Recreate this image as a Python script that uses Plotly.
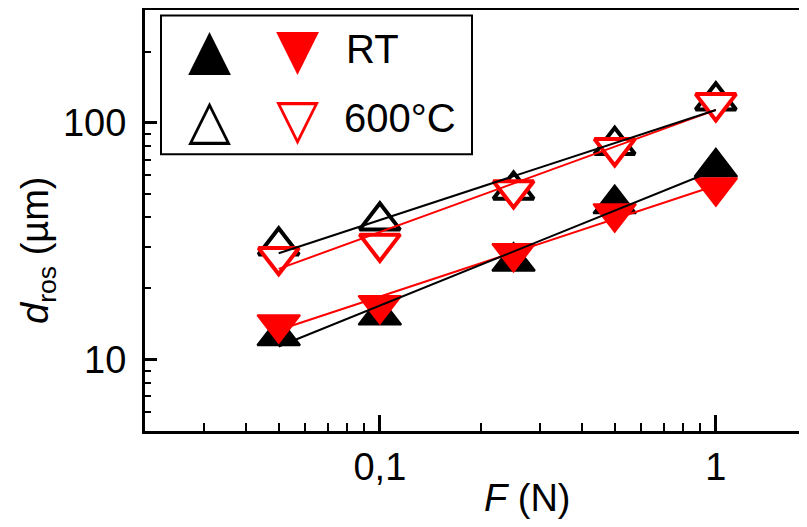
import numpy as np
import plotly.graph_objects as go

# ---- data ----
force_N = [0.05, 0.1, 0.25, 0.5, 1.0]
d_rt_black = [12.6, 15.4, 26.0, 45.5, 65.0]      # filled black triangles (RT)
d_rt_red = [14.1, 17.0, 28.2, 41.5, 53.4]        # filled red triangles (RT)
d_600_black = [30.3, 38.6, 52.1, 80.5, 124.2]    # open black triangles (600 °C)
d_600_red = [27.2, 31.0, 52.1, 78.5, 121.6]      # open red triangles (600 °C)

legend_labels = ["RT", "600°C"]
x_tickvals = [0.1, 1]
x_ticktext = ["0,1", "1"]
y_tickvals = [10, 100]
y_ticktext = ["10", "100"]
x_minor = [m * 10.0 ** e for e in (-2, -1) for m in range(2, 10)]
y_minor = [m * 10.0 ** e for e in (0, 1, 2) for m in range(2, 10)]

# ---- layout geometry ----
OFF = 8                      # page body margin of the html page
SW, SH = 807, 527            # screen size
W, H = SW - OFF, SH - 2 * OFF    # figure size (no page overflow)
# plot area in screen pixels
S_LEFT, S_TOP, S_BOTTOM = 145.0, 9.5, 431.4
L = S_LEFT - OFF
T = S_TOP - OFF
B = H - (S_BOTTOM - OFF)
R = 0
PW, PH = W - L - R, H - T - B
X_DECADE = 336.0


def px(x):
    return (x - S_LEFT) / PW


def py(y):
    return (S_BOTTOM - y) / PH


def power_fit(x, y):
    b, a = np.polyfit(np.log10(x), np.log10(y), 1)
    xs = np.array([min(x), max(x)])
    return xs, 10 ** (a + b * np.log10(xs))


FONT = "Liberation Sans, Arial, sans-serif"
RED = "#ff0000"
MS = 37

fig = go.Figure()

fig.add_trace(go.Scatter(x=force_N, y=d_rt_black, mode="markers", name="RT",
                         marker=dict(symbol="triangle-up", size=MS, color="black",
                                     line=dict(color="black", width=2))))
fig.add_trace(go.Scatter(x=force_N, y=d_rt_red, mode="markers", name="RT",
                         marker=dict(symbol="triangle-down", size=MS, color=RED,
                                     line=dict(color=RED, width=2))))
fig.add_trace(go.Scatter(x=force_N, y=d_600_black, mode="markers", name="600°C",
                         marker=dict(symbol="triangle-up", size=MS - 2, color="white",
                                     line=dict(color="black", width=4))))
fig.add_trace(go.Scatter(x=force_N, y=d_600_red, mode="markers", name="600°C",
                         marker=dict(symbol="triangle-down", size=MS - 2, color="white",
                                     line=dict(color=RED, width=4))))

for ys, col in [(d_rt_red, RED), (d_rt_black, "black"), (d_600_red, RED), (d_600_black, "black")]:
    fx, fy = power_fit(force_N, ys)
    fig.add_trace(go.Scatter(x=fx, y=fy, mode="lines", line=dict(color=col, width=2),
                             hoverinfo="skip"))

axis_common = dict(
    type="log", showgrid=False, zeroline=False, showline=True,
    linecolor="black", linewidth=3, ticks="inside", tickcolor="black",
    tickfont=dict(family=FONT, size=38, color="black"),
)

x0 = np.log10(0.02)
fig.update_xaxes(**axis_common, range=[x0, x0 + PW / X_DECADE],
                 mirror=True, tickmode="array", tickvals=x_tickvals, ticktext=x_ticktext,
                 ticklen=16, tickwidth=2.5, ticklabelstandoff=0,
                 minor=dict(tickmode="array", tickvals=x_minor, ticks="inside",
                            ticklen=8, tickwidth=2, tickcolor="black", showgrid=False))
fig.update_yaxes(**axis_common, range=[np.log10(5), np.log10(300)],
                 mirror=False, tickmode="array", tickvals=y_tickvals, ticktext=y_ticktext,
                 ticklen=12, tickwidth=2.5, ticklabelstandoff=8,
                 minor=dict(tickmode="array", tickvals=y_minor, ticks="inside",
                            ticklen=6, tickwidth=2, tickcolor="black", showgrid=False))

GLYPH = dict(family="DejaVu Sans", size=56)
annotations = [
    dict(text="<i>F</i> (N)", x=px(527), y=py(499), xref="paper", yref="paper",
         xanchor="center", yanchor="middle", showarrow=False,
         font=dict(family=FONT, size=38, color="black")),
    dict(text="<i>d</i><sub>ros</sub> (µm)", x=px(38), y=py(250), xref="paper", yref="paper",
         xanchor="center", yanchor="middle", showarrow=False, textangle=-90,
         font=dict(family=FONT, size=38, color="black")),
    # legend key
    dict(text="▲", x=px(209), y=py(48), xref="paper", yref="paper", showarrow=False,
         xanchor="center", yanchor="middle", font=dict(**GLYPH, color="black")),
    dict(text="▼", x=px(297), y=py(48), xref="paper", yref="paper", showarrow=False,
         xanchor="center", yanchor="middle", font=dict(**GLYPH, color=RED)),
    dict(text="<b>△</b>", x=px(209), y=py(118), xref="paper", yref="paper", showarrow=False,
         xanchor="center", yanchor="middle", font=dict(**GLYPH, color="black")),
    dict(text="<b>▽</b>", x=px(297), y=py(118), xref="paper", yref="paper", showarrow=False,
         xanchor="center", yanchor="middle", font=dict(**GLYPH, color=RED)),
    dict(text=legend_labels[0], x=px(344), y=py(49), xref="paper", yref="paper", showarrow=False,
         xanchor="left", yanchor="middle", font=dict(family=FONT, size=40, color="black")),
    dict(text=legend_labels[1], x=px(342), y=py(118), xref="paper", yref="paper", showarrow=False,
         xanchor="left", yanchor="middle", font=dict(family=FONT, size=40, color="black")),
]

shapes = [dict(type="rect", xref="paper", yref="paper",
               x0=px(161), x1=px(472), y0=py(154), y1=py(15),
               line=dict(color="black", width=2), fillcolor="rgba(0,0,0,0)")]

fig.update_layout(
    width=W, height=H, margin=dict(l=L, r=R, t=T, b=B, autoexpand=False),
    paper_bgcolor="white", plot_bgcolor="white", showlegend=False,
    annotations=annotations, shapes=shapes,
    font=dict(family=FONT, color="black"),
)

fig.write_html("out.html")
